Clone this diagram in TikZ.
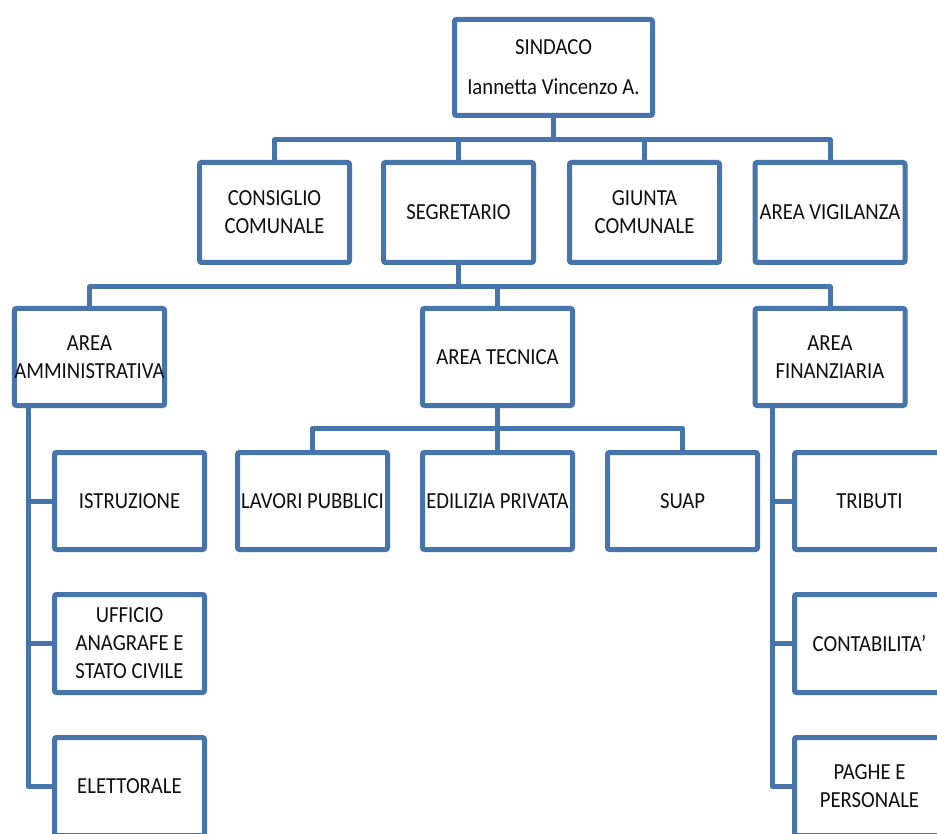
\documentclass[tikz,border=0pt]{standalone}
\usepackage{fontspec}
\setmainfont{Carlito}[FakeStretch=0.9]
\definecolor{boxblue}{RGB}{72,116,172}
\definecolor{txt}{RGB}{15,15,15}
\begin{document}
\begin{tikzpicture}[x=1pt,y=-1pt,
  box/.style={draw=boxblue, line width=5pt, rounded corners=2pt, fill=white,
    minimum width=150pt, minimum height=97pt, inner sep=0pt, align=center,
    text=txt, font=\fontsize{23}{28}\selectfont},
  conn/.style={draw=boxblue, line width=5pt, line join=round}]
\clip (0,0) rectangle (937,834);
\fill[white] (0,0) rectangle (937,834);
% coordinates of buses
\coordinate (b1) at (0,140);
\coordinate (b2) at (0,287);
\coordinate (b3) at (0,428);
\coordinate (vl) at (28,0);
\coordinate (vr) at (772,0);
\path (553.5,67.5) node[box, minimum width=198pt, minimum height=96pt] (sind) {SINDACO\\[12pt]Iannetta Vincenzo A.};
\path (274.5,212.5) node[box, minimum height=100pt] (cons) {CONSIGLIO\\COMUNALE};
\path (458.5,212.5) node[box, minimum height=100pt] (seg) {SEGRETARIO};
\path (644.5,212.5) node[box, minimum height=100pt] (giu) {GIUNTA\\COMUNALE};
\path (830,212.5) node[box, minimum height=100pt] (vig) {AREA VIGILANZA};
\path (89.5,357) node[box] (amm) {AREA\\AMMINISTRATIVA};
\path (497.5,357) node[box] (tec) {AREA TECNICA};
\path (830,357) node[box] (fin) {AREA\\FINANZIARIA};
\path (312.5,501) node[box] (lav) {LAVORI PUBBLICI};
\path (497.5,501) node[box] (edi) {EDILIZIA PRIVATA};
\path (682.5,501) node[box] (suap) {SUAP};
\path (129.5,501) node[box] (ist) {ISTRUZIONE};
\path (129.5,643.5) node[box, minimum height=98pt] (uff) {UFFICIO\\ANAGRAFE E\\STATO CIVILE};
\path (129.5,786.5) node[box, minimum height=98pt] (ele) {ELETTORALE};
\path (869.5,501) node[box] (tri) {TRIBUTI};
\path (869.5,643.5) node[box, minimum height=98pt] (con) {CONTABILITA’};
\path (869.5,786.5) node[box, minimum height=98pt] (pag) {PAGHE E\\PERSONALE};
% level 1
\draw[conn] (sind.south) -- (sind.south |- b1);
\draw[conn] (cons.north) -- (cons.north |- b1) -- (vig.north |- b1) -- (vig.north);
\draw[conn] (seg.north) -- (seg.north |- b1);
\draw[conn] (giu.north) -- (giu.north |- b1);
% level 2
\draw[conn] (seg.south) -- (seg.south |- b2);
\draw[conn] (amm.north) -- (amm.north |- b2) -- (fin.north |- b2) -- (fin.north);
\draw[conn] (tec.north) -- (tec.north |- b2);
% level 3
\draw[conn] (tec.south) -- (tec.south |- b3);
\draw[conn] (lav.north) -- (lav.north |- b3) -- (suap.north |- b3) -- (suap.north);
\draw[conn] (edi.north) -- (edi.north |- b3);
% left column
\draw[conn] (vl |- amm.south) -- (vl |- ele.west) -- (ele.west);
\draw[conn] (vl |- ist.west) -- (ist.west);
\draw[conn] (vl |- uff.west) -- (uff.west);
% right column
\draw[conn] (vr |- fin.south) -- (vr |- pag.west) -- (pag.west);
\draw[conn] (vr |- tri.west) -- (tri.west);
\draw[conn] (vr |- con.west) -- (con.west);
\end{tikzpicture}
\end{document}
